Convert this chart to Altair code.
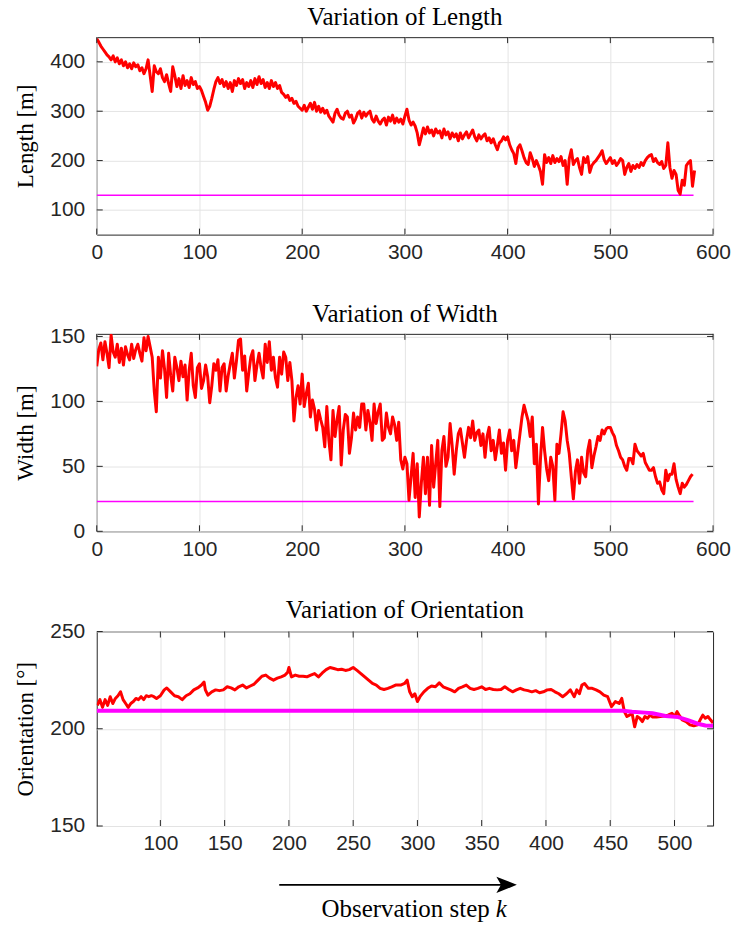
import altair as alt
import pandas as pd

# ---------------- data ----------------
# Length: one value every 2 observation steps, starting at k = 0
length_step = 2
length_y = [
    447, 440, 432, 426, 420, 414, 410, 404, 412, 400,
    408, 396, 404, 392, 400, 388, 396, 386, 398, 390,
    394, 382, 388, 376, 386, 404, 372, 340, 392, 380,
    376, 386, 368, 360, 374, 356, 340, 390, 372, 350,
    366, 346, 372, 352, 362, 348, 368, 354, 360, 346,
    350, 342, 330, 318, 302, 310, 326, 344, 360, 368,
    356, 364, 350, 360, 346, 358, 340, 362, 352, 366,
    356, 364, 346, 358, 350, 362, 348, 366, 354, 370,
    356, 364, 348, 358, 346, 362, 350, 358, 346, 352,
    338, 334, 328, 332, 322, 326, 316, 320, 310, 306,
    302, 312, 300, 308, 316, 304, 318, 300, 310, 298,
    306, 296, 302, 290, 284, 278, 296, 304, 292, 286,
    284, 296, 300, 288, 292, 276, 284, 296, 300, 286,
    298, 290, 296, 300, 284, 278, 290, 280, 274, 282,
    286, 272, 288, 280, 292, 276, 286, 278, 284, 274,
    290, 304, 282, 272, 278, 270, 256, 232, 248, 266,
    254, 268, 256, 262, 250, 264, 256, 260, 246, 264,
    252, 258, 244, 256, 248, 254, 240, 256, 244, 252,
    258, 246, 254, 262, 248, 240, 252, 244, 250, 254,
    240, 246, 236, 244, 232, 222, 236, 240, 248, 242,
    248, 232, 222, 214, 194, 226, 232, 220, 206, 196,
    192, 216, 204, 188, 200, 190, 178, 152, 212, 196,
    206, 194, 210, 196, 204, 198, 208, 190, 200, 152,
    204, 222, 192, 200, 204, 186, 172, 206, 196, 208,
    176, 190, 196, 200, 206, 212, 220, 202, 194, 200,
    206, 194, 200, 190, 196, 204, 200, 172, 186, 194,
    178, 190, 184, 192, 186, 196, 190, 200, 206, 210,
    212, 198, 204, 196, 192, 198, 184, 190, 236, 186,
    164, 180, 172, 140, 132, 160, 150, 190, 196, 200,
    148, 180,
]
length_x = [i * length_step for i in range(len(length_y))]
length_ref_x = [0, 581]
length_ref_y = [130, 130]

# Width: one value every 2 observation steps, starting at k = 0
width_step = 2
width_y = [
    127, 140, 145, 132, 146, 137, 126, 151, 138, 134,
    144, 130, 141, 128, 142, 136, 132, 144, 133, 140,
    144, 137, 131, 149, 139, 150, 142, 134, 108, 92,
    134, 118, 139, 125, 103, 137, 120, 108, 134, 126,
    116, 131, 119, 128, 101, 124, 137, 112, 103, 126,
    129, 110, 116, 128, 119, 99, 112, 129, 124, 132,
    108, 126, 129, 108, 120, 129, 137, 118, 131, 147,
    148, 124, 135, 108, 122, 134, 139, 116, 128, 137,
    126, 118, 144, 130, 146, 124, 134, 118, 111, 134,
    121, 138, 134, 116, 130, 116, 85, 103, 112, 98,
    121, 96, 106, 114, 88, 101, 94, 78, 93, 86,
    80, 65, 96, 70, 55, 93, 73, 86, 96, 51,
    78, 90, 88, 60, 72, 91, 78, 88, 80, 98,
    98, 78, 93, 84, 70, 98, 83, 92, 98, 70,
    72, 91, 80, 75, 88, 82, 70, 84, 55, 48,
    57, 52, 24, 42, 60, 26, 52, 11, 37, 57,
    29, 57, 20, 66, 34, 52, 70, 19, 62, 73,
    50, 57, 83, 66, 44, 62, 75, 79, 68, 57,
    70, 80, 72, 85, 70, 76, 78, 66, 75, 57,
    73, 80, 62, 70, 55, 66, 78, 60, 68, 47,
    70, 78, 62, 70, 49, 62, 75, 88, 97, 91,
    85, 73, 88, 52, 67, 21, 56, 80, 62, 48,
    39, 57, 50, 24, 67, 60, 75, 92, 85, 70,
    60, 42, 25, 46, 55, 37, 57, 45, 42, 62,
    70, 49, 58, 65, 73, 70, 78, 75, 79, 80,
    80, 76, 73, 66, 62, 57, 55, 50, 47, 56,
    56, 52, 67, 62, 60, 58, 60, 53, 50, 47,
    47, 49, 42, 37, 38, 32, 29, 47, 39, 44,
    44, 52, 40, 34, 29, 37, 34, 36, 39, 42,
    44,
]
width_x = [i * width_step for i in range(len(width_y))]
width_ref_x = [0, 581]
width_ref_y = [23, 23]

orient_x = [
    51, 53, 55, 57, 59, 61, 63, 65, 67, 69,
    71, 73, 75, 77, 79, 81, 83, 85, 87, 89,
    91, 93, 95, 97, 100, 103, 105, 108, 111, 114,
    117, 120, 123, 126, 129, 132, 134, 135, 137, 140,
    143, 146, 149, 152, 155, 158, 161, 164, 167, 170,
    173, 176, 179, 182, 185, 188, 191, 194, 197, 199,
    200, 202, 205, 208, 211, 214, 217, 220, 223, 226,
    229, 232, 235, 238, 241, 244, 247, 250, 253, 256,
    259, 262, 265, 268, 271, 274, 277, 280, 283, 287,
    290, 292, 294, 296, 298, 300, 302, 305, 308, 311,
    314, 317, 320, 323, 326, 329, 332, 335, 338, 341,
    344, 347, 350, 353, 356, 359, 362, 365, 368, 371,
    374, 377, 380, 383, 386, 389, 392, 395, 398, 401,
    404, 407, 410, 413, 416, 419, 422, 424, 426, 428,
    430, 433, 436, 439, 442, 445, 448, 451, 454, 457,
    459, 461, 463, 465, 467, 469, 471, 473, 475, 477,
    479, 481, 483, 486, 489, 492, 495, 498, 500, 502,
    504, 506, 509, 512, 515, 518, 520, 522, 524, 526,
    528, 530,
]
orient_y = [
    212, 215, 211, 215, 212, 216.5, 213, 215.6, 217, 219,
    215, 213, 211, 213, 214, 215.6, 215, 216.5, 215, 217,
    216.5, 217, 216.5, 215.6, 217, 220, 221, 219, 217, 216.5,
    215, 217, 218, 220, 221, 222.5, 224, 220, 217.3, 219,
    220, 219.6, 220, 221.6, 221, 220, 221.6, 222.5, 221, 222,
    223, 225, 227, 227.6, 226, 225, 226, 226.7, 227.6, 229,
    231.5, 226.7, 227.6, 227, 227, 226.7, 227.6, 228.4, 226.7, 228.7,
    230.4, 231.5, 231, 230.4, 230.6, 230, 230.4, 231.5, 230, 228.4,
    226.7, 225, 223.3, 222.5, 220.8, 220.2, 220.8, 221.6, 222.5, 222.5,
    223.3, 225, 219, 216.5, 218, 214, 216.5, 219, 220.8, 222,
    221.6, 223.6, 221.6, 220.8, 220, 219, 220.8, 221.6, 222.5, 220.8,
    220.2, 220.8, 221.6, 220.2, 220.8, 220.2, 220, 220.2, 221.6, 220.2,
    219, 220, 220.8, 220, 219.6, 219, 219.6, 218.5, 219, 220,
    220.2, 219, 218, 216.5, 218, 220, 216.5, 220, 218, 222.5,
    223.3, 220.8, 220.8, 220, 219, 217.3, 216.5, 211.4, 214, 213,
    215.6, 208.8, 206.3, 207, 208, 201, 206.3, 205.4, 203.7, 206.3,
    205.4, 207, 206, 206, 206.3, 206.6, 207, 208, 206.3, 208.8,
    206.6, 204.6, 203.7, 202, 201.5, 202, 204.6, 207, 205.4, 206.3,
    204.6, 203,
]
orient_ref_x = [50.5, 460, 467, 477, 483, 493, 503, 511, 518, 524, 530]
orient_ref_y = [209.3, 209.3, 208.8, 208.3, 208, 206.6, 206, 204.3, 202.6, 201.7, 201.5]

length_xticks = [0, 100, 200, 300, 400, 500, 600]
length_yticks = [100, 200, 300, 400]
width_xticks = [0, 100, 200, 300, 400, 500, 600]
width_yticks = [0, 50, 100, 150]
orient_xticks = [100, 150, 200, 250, 300, 350, 400, 450, 500]
orient_yticks = [150, 200, 250]

titles = ["Variation of Length", "Variation of Width", "Variation of Orientation"]
ytitles = ["Length [m]", "Width [m]", "Orientation [°]"]
xlabel_text = "Observation step"
xlabel_var = "k"

# ---------------- style ----------------
PW = 618
FRAME = "#262626"
GRID = "#e4e4e4"
SANS = "Liberation Sans Narrow, Liberation Sans, Arial, sans-serif"
SERIF = "Liberation Serif, Times New Roman, serif"


def frame(x, y):
    n = min(len(x), len(y))
    return pd.DataFrame({"k": x[:n], "v": y[:n]})


def panel(title, ytitle, dx, dy, rx, ry, xdom, ydom, xticks, yticks, h,
          ref_width, ref_on_top, title_offset, extra=()):
    xs = alt.Scale(domain=xdom, nice=False, zero=False)
    ys = alt.Scale(domain=ydom, nice=False, zero=False)
    xax = alt.Axis(values=xticks, title=None, grid=True, gridColor=GRID,
                   ticks=False, domain=False, labelFont=SANS, labelFontSize=21,
                   labelColor=FRAME, labelPadding=7, labelFlush=False,
                   labelOverlap=False, format="d")
    yax = alt.Axis(values=yticks, title=ytitle, grid=True, gridColor=GRID,
                   ticks=False, domain=False, labelFont=SANS, labelFontSize=21,
                   labelColor=FRAME, labelPadding=12, labelOverlap=False,
                   format="d", titleFont=SERIF, titleFontSize=23,
                   titleFontWeight="normal", titleColor="black", titlePadding=12)

    def X(f):
        return alt.X(f, type="quantitative", scale=xs, axis=xax)

    def Y(f):
        return alt.Y(f, type="quantitative", scale=ys, axis=yax)

    red = alt.Chart(frame(dx, dy)).mark_line(
        color="#ff0000", strokeWidth=3, strokeJoin="round", clip=True
    ).encode(x=X("k"), y=Y("v"))
    ref = alt.Chart(frame(rx, ry)).mark_line(
        color="#ff00ff", strokeWidth=ref_width, clip=True
    ).encode(x=X("k"), y=Y("v"))

    xt = pd.DataFrame({"t": xticks})
    yt = pd.DataFrame({"t": yticks})
    tk = dict(color=FRAME, strokeWidth=1)
    t_left = alt.Chart(yt).mark_rule(**tk).encode(y=Y("t"), x=alt.value(0), x2=alt.value(6))
    t_right = alt.Chart(yt).mark_rule(**tk).encode(y=Y("t"), x=alt.value(PW - 6), x2=alt.value(PW))
    t_top = alt.Chart(xt).mark_rule(**tk).encode(x=X("t"), y=alt.value(0), y2=alt.value(6))
    t_bot = alt.Chart(xt).mark_rule(**tk).encode(x=X("t"), y=alt.value(h - 6), y2=alt.value(h))

    lines = [red, ref] if ref_on_top else [ref, red]
    layers = lines + [t_left, t_right, t_top, t_bot] + list(extra)
    return alt.layer(*layers).properties(
        width=PW, height=h,
        title=alt.TitleParams(title, offset=title_offset),
    )


# arrow and axis label below the last panel
arrow_line = alt.Chart(pd.DataFrame({"s": [xlabel_text]})).mark_rule(
    color="black", strokeWidth=1.6
).encode(x=alt.value(183), x2=alt.value(408), y=alt.value(254))
arrow_head = alt.Chart(pd.DataFrame({"s": [xlabel_text]})).mark_point(
    shape="M -1 -0.8 L 1 0 L -1 0.8 L -0.55 0 Z", filled=True, size=420,
    color="black", opacity=1
).encode(x=alt.value(411), y=alt.value(254))
label_main = alt.Chart(pd.DataFrame({"s": [xlabel_text]})).mark_text(
    font=SERIF, fontSize=25, align="right", baseline="middle", color="black"
).encode(text="s:N", x=alt.value(394), y=alt.value(278))
label_var = alt.Chart(pd.DataFrame({"s": [xlabel_var]})).mark_text(
    font=SERIF, fontSize=25, fontStyle="italic", align="left", baseline="middle",
    color="black"
).encode(text="s:N", x=alt.value(400), y=alt.value(278))

p1 = panel(titles[0], ytitles[0], length_x, length_y, length_ref_x, length_ref_y,
           [0, 600], [50, 450], length_xticks, length_yticks, 198, 1.5, False, 7)
p2 = panel(titles[1], ytitles[1], width_x, width_y, width_ref_x, width_ref_y,
           [0, 600], [0, 152], width_xticks, width_yticks, 198, 1.5, False, -1.5)
p3 = panel(titles[2], ytitles[2], orient_x, orient_y, orient_ref_x, orient_ref_y,
           [50.5, 530], [150, 250], orient_xticks, orient_yticks, 195, 4, True, -2.5,
           extra=(arrow_line, arrow_head, label_main, label_var))

chart = alt.vconcat(p1, p2, p3, spacing=37.5).configure_view(
    stroke=FRAME, strokeWidth=1
).configure_title(
    font=SERIF, fontSize=25, fontWeight="normal", color="black", anchor="middle"
).properties(
    padding={"left": 14, "top": 3, "right": 0, "bottom": 0},
    background="white",
)

chart.save("out.html", embed_options={"renderer": "svg", "actions": False})
